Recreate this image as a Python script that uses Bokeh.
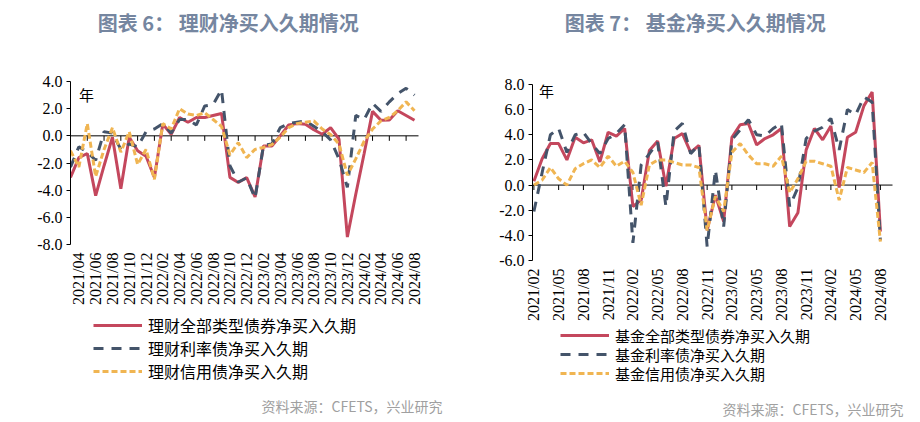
import numpy as np
import pandas as pd
from bokeh.plotting import figure
from bokeh.models import Range1d, FixedTicker, Label, Legend, LegendItem, PrintfTickFormatter
from bokeh.layouts import row, column
from bokeh.embed import file_html
from bokeh.resources import INLINE

# ---------------- data ----------------
# 理财 (wealth management) 2021/03 - 2024/08
wm_months = [p.strftime("%Y/%m") for p in pd.period_range("2021-03", "2024-08", freq="M")]
wm_all = [-3.06, -1.6, -1.3, -4.4, -2.2, -0.1, -3.9, -0.1, -1.1, -1.5,
          -3.06, 0.86, 0.12, 1.35, 1.0, 1.35, 1.35, 1.5, 1.65, -3.06,
          -3.43, -3.07, -4.5, -0.74, -0.75, 0.0, 0.8, 0.9, 0.85, 0.45,
          0.12, 0.6, -0.25, -7.45, -4.3, -1.3, 1.8, 1.15, 1.17, 1.85,
          1.5, 1.15]
wm_rate = [-2.3, -0.8, -1.2, -1.8, 0.3, 0.2, -1.0, -0.6, -0.8, 0.3,
           0.5, 0.9, 0.2, 1.2, 1.2, 0.8, 2.2, 2.3, 3.4, -2.2,
           -3.4, -3.1, -4.6, -0.7, -0.6, 0.6, 0.9, 1.0, 1.1, 0.7,
           0.3, -0.3, -1.7, -3.8, 1.5, 1.2, 2.4, 1.8, 2.5, 3.1,
           3.5, 3.0]
wm_credit = [-1.1, -2.3, 0.9, -3.0, -1.0, 0.6, -1.2, 0.3, -2.1, -1.0,
             -3.2, 0.9, 0.5, 2.0, 1.6, 1.5, 1.7, 1.2, 0.7, -1.4,
             -0.5, -1.6, -1.0, -0.85, -0.65, -0.1, 0.6, 0.9, 1.0, 1.1,
             0.5, 0.1, -0.6, -2.9, -1.7, -0.4, 0.5, 1.1, 1.35, 1.85,
             2.5, 1.85]
wm_names = ["理财全部类型债券净买入久期", "理财利率债净买入久期", "理财信用债净买入久期"]
wm_label_idx = list(range(1, len(wm_months), 2))
wm_tick_idx = list(range(0, len(wm_months), 2))
wm_yticks = [-8, -6, -4, -2, 0, 2, 4]

# 基金 (funds) 2021/02 - 2024/08
fund_months = [p.strftime("%Y/%m") for p in pd.period_range("2021-02", "2024-08", freq="M")]
fund_all = [0.3, 2.1, 3.3, 3.3, 2.0, 3.8, 3.36, 3.6, 1.84, 4.2,
            3.9, 4.5, -1.7, -1.2, 2.75, 3.5, -0.1, 3.7, 4.1, 2.6,
            3.15, -3.6, -0.8, -2.9, 3.8, 4.8, 4.9, 3.2, 3.7, 4.0,
            4.5, -3.3, -2.2, 2.8, 4.5, 3.6, 4.7, -0.2, 3.8, 4.2,
            6.3, 7.4, -3.7]
fund_rate = [-2.1, 1.0, 4.0, 4.5, 2.6, 4.0, 4.2, 3.3, 2.5, 3.7,
             4.1, 4.8, -4.6, 1.6, 2.5, 3.4, -1.7, 4.3, 4.9, 2.5,
             3.2, -4.9, 1.2, -3.3, 3.6, 4.4, 5.2, 4.0, 3.9, 4.5,
             4.9, -1.7, -0.2, 3.7, 4.3, 4.6, 5.3, 2.8, 6.0, 5.6,
             7.0, 6.6, -4.4]
fund_credit = [0.0, 0.4, 1.4, 0.5, 0.0, 1.3, 1.7, 2.0, 1.4, 2.3,
               1.5, 1.9, 1.0, -1.6, 1.6, 2.0, 2.0, 1.8, 1.6, 1.6,
               1.4, -3.6, -0.9, -2.1, 2.6, 3.3, 2.4, 1.7, 1.7, 1.5,
               2.3, -0.6, 0.5, 1.9, 1.9, 1.7, 1.5, -1.2, 1.4, 1.2,
               1.0, 1.8, -4.5]
fund_names = ["基金全部类型债券净买入久期", "基金利率债净买入久期", "基金信用债净买入久期"]
fund_label_idx = list(range(0, len(fund_months), 3))
fund_tick_idx = fund_label_idx
fund_yticks = [-6, -4, -2, 0, 2, 4, 6, 8]

# ---------------- style ----------------
RED = "#C4475D"
DARK = "#44546A"
GOLD = "#F0B552"
SERIF = "Liberation Serif"
CJK = "Noto Sans CJK SC"
TITLE_COLOR = "#7586A0"
W, H = 460, 422
TOP_H = 60
STYLES = [dict(line_color=RED, line_width=3),
          dict(line_color=DARK, line_width=3, line_dash="10 8"),
          dict(line_color=GOLD, line_width=3, line_dash="6 3")]
ITEM_H = 26


def strip_fig(h, fl, fr):
    # frame spans fl..fr horizontally (aligned with main chart), x data = panel pixels
    f = figure(width=W, height=h, output_backend="svg", toolbar_location=None,
               x_range=Range1d(fl, fr), y_range=Range1d(0, h),
               x_axis_type=None, y_axis_type=None,
               min_border_left=fl, min_border_right=W - fr,
               min_border_top=0, min_border_bottom=0)
    f.outline_line_color = None
    f.grid.visible = False
    return f


def make_panel(title, months, series, names, label_idx, tick_idx, yticks,
               main_bottom, frame, axis_right, x_start, px_per_month, title_c, nian_c,
               legend_x, legend_cy, legend_font, src_r):
    fl, ft, fr, fb = frame  # panel pixel coords of plotting frame
    fw, fh = fr - fl, fb - ft

    # --- title strip ---
    top = strip_fig(TOP_H, fl, fr)
    top.add_layout(Label(x=title_c[0], y=TOP_H - title_c[1], text=title,
                         text_align="center", text_baseline="middle",
                         text_font=CJK, text_font_style="bold",
                         text_font_size="20px", text_color=TITLE_COLOR))

    # --- main chart ---
    mh = main_bottom - TOP_H
    x_end = x_start + fw / px_per_month
    p = figure(width=W, height=mh, output_backend="svg", toolbar_location=None,
               x_range=Range1d(x_start, x_end),
               y_range=Range1d(yticks[0], yticks[-1]),
               min_border_left=fl, min_border_top=ft - TOP_H,
               min_border_right=W - fr, min_border_bottom=main_bottom - fb)
    p.outline_line_color = None
    p.grid.visible = False

    ya = p.yaxis[0]
    ya.ticker = FixedTicker(ticks=yticks)
    ya.formatter = PrintfTickFormatter(format="%.1f")
    ya.axis_line_color = "black"
    ya.major_tick_line_color = "black"
    ya.major_tick_out = 4
    ya.major_tick_in = 0
    ya.minor_tick_line_color = None
    ya.major_label_text_font = SERIF
    ya.major_label_text_font_size = "16px"
    ya.major_label_text_color = "black"
    ya.major_label_standoff = 4

    xa = p.xaxis[0]
    xa.ticker = FixedTicker(ticks=label_idx)
    xa.major_label_overrides = {i: months[i] for i in label_idx}
    xa.major_label_orientation = np.pi / 2
    xa.axis_line_color = None
    xa.major_tick_line_color = None
    xa.major_tick_out = 0
    xa.major_tick_in = 0
    xa.minor_tick_line_color = None
    xa.major_label_text_font = SERIF
    xa.major_label_text_font_size = "16px"
    xa.major_label_text_color = "black"
    xa.major_label_standoff = 8

    # zero axis line with tick marks, ending where the category axis ends
    x_axis_end = x_start + (axis_right - fl) / px_per_month
    p.segment(x0=[x_start], y0=[0], x1=[x_axis_end], y1=[0], line_color="black", line_width=1)
    tl = 5 * (yticks[-1] - yticks[0]) / fh
    p.segment(x0=tick_idx, y0=[0] * len(tick_idx), x1=tick_idx,
              y1=[-tl] * len(tick_idx), line_color="black", line_width=1)

    x = list(range(len(months)))
    for ys, st in zip(series, STYLES):
        p.line(x, ys, **st)

    p.add_layout(Label(x=nian_c[0] - fl, y=fb - nian_c[1], x_units="screen", y_units="screen",
                       text="年", text_align="center", text_baseline="middle",
                       text_font=CJK, text_font_size="15px", text_color="black"))

    # --- legend + source strip ---
    bh = H - main_bottom
    bot = strip_fig(bh, fl, fr)
    for nm, st, cy in zip(names, STYLES, legend_cy):
        r = bot.line([-50, -40], [-50, -40], **st)
        y_bottom = bh - (cy - main_bottom) - ITEM_H / 2
        leg = Legend(items=[LegendItem(label=nm, renderers=[r])],
                     location=(legend_x - fl, y_bottom),
                     orientation="vertical",
                     border_line_color=None, background_fill_alpha=0,
                     padding=0, margin=0, spacing=0,
                     glyph_width=49, glyph_height=ITEM_H,
                     label_height=ITEM_H, label_standoff=6,
                     label_text_font=CJK, label_text_font_size=legend_font,
                     label_text_color="black")
        bot.add_layout(leg)
    bot.add_layout(Label(x=src_r[0], y=bh - (src_r[1] - main_bottom),
                         text="资料来源：CFETS，兴业研究",
                         text_align="right", text_baseline="middle",
                         text_font=CJK, text_font_size="14px", text_color="#A0A0A0"))
    return column(top, p, bot, spacing=0)


left = make_panel("图表 6：  理财净买入久期情况", wm_months,
                  [wm_all, wm_rate, wm_credit], wm_names,
                  wm_label_idx, wm_tick_idx, wm_yticks,
                  main_bottom=312, frame=(70, 81, 448, 244), axis_right=418,
                  x_start=0.0, px_per_month=8.39,
                  title_c=(230, 22), nian_c=(86, 94),
                  legend_x=93, legend_cy=[325, 348, 371], legend_font="16px",
                  src_r=(442, 405))

right = make_panel("图表 7：  基金净买入久期情况", fund_months,
                   [fund_all, fund_rate, fund_credit], fund_names,
                   fund_label_idx, fund_tick_idx, fund_yticks,
                   main_bottom=323, frame=(72, 84, 448, 262), axis_right=432,
                   x_start=-0.17, px_per_month=8.25,
                   title_c=(237, 22), nian_c=(86, 92),
                   legend_x=100, legend_cy=[335, 354, 373], legend_font="15px",
                   src_r=(443, 408))

layout = row(left, right, spacing=0)
open("out.html", "w").write(file_html(layout, INLINE))
